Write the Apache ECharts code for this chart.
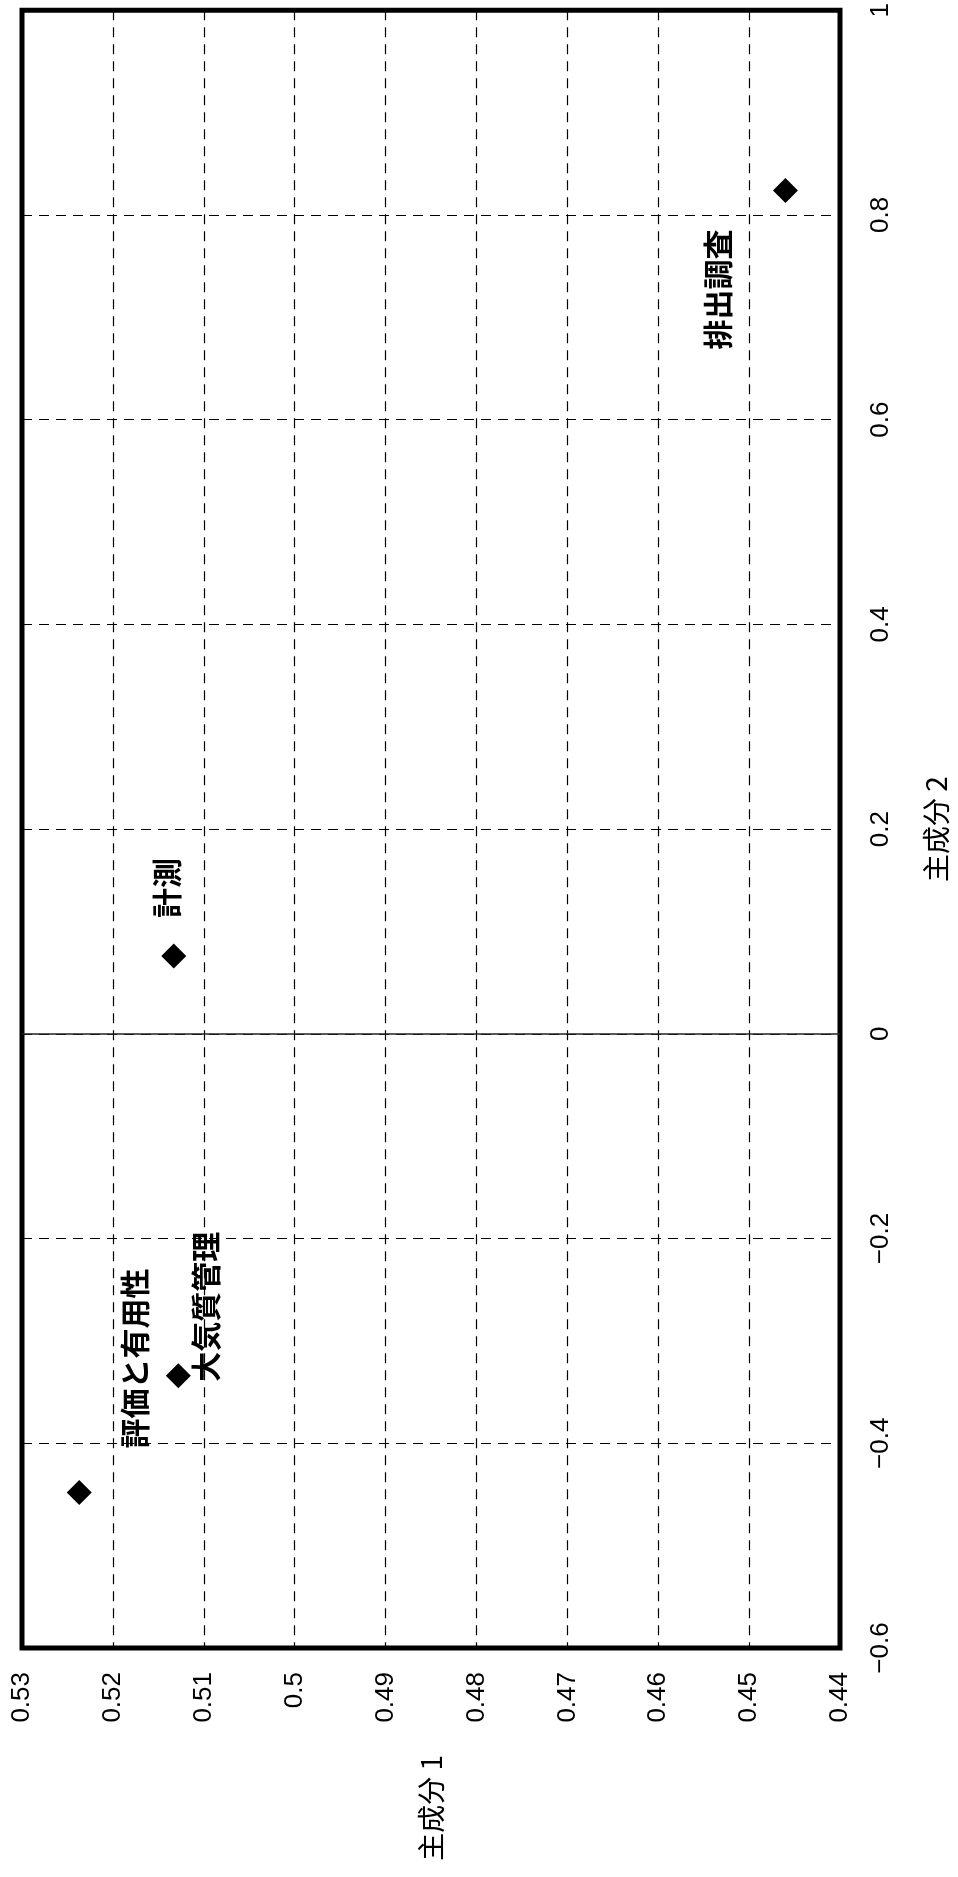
<!DOCTYPE html>
<html>
<head>
<meta charset="utf-8">
<script src="https://cdn.jsdelivr.net/npm/echarts@6/dist/echarts.min.js"></script>
<style>
  html, body { margin: 0; padding: 0; background: #fff; }
  #chart { width: 958px; height: 1877px; }
</style>
</head>
<body>
<div id="chart"></div>
<script>
// Principal component loadings of each topic
const names = ['評価と有用性', '大気質管理', '計測', '排出調査'];
const pc1 = [0.5237, 0.5128, 0.5133, 0.4460];
const pc2 = [-0.448, -0.334, 0.076, 0.824];

// Axis ranges and tick steps
const pc1Min = 0.44, pc1Max = 0.53, pc1Step = 0.01;
const pc2Min = -0.6, pc2Max = 1, pc2Step = 0.2;
const pc1Name = '主成分 1';
const pc2Name = '主成分 2';

// Label placement relative to each marker (screen pixels)
const labelShift = [[55, -134], [27, -69], [-7, -68], [-68, 99]];

const chart = echarts.init(document.getElementById('chart'), null, { renderer: 'canvas' });

const latin = "'Liberation Sans', Arial, sans-serif";
const cjk = "'Noto Sans CJK JP', sans-serif";
const dashed = { type: [10, 7], color: '#000', width: 1.2 };

chart.setOption({
  backgroundColor: '#fff',
  animation: false,
  grid: {
    left: 22, top: 8, right: 114, bottom: 229,
    show: true, borderColor: '#000', borderWidth: 5, backgroundColor: 'transparent'
  },
  xAxis: {
    type: 'value',
    min: pc1Min, max: pc1Max, interval: pc1Step,
    inverse: true,
    position: 'bottom',
    axisLine: { show: false },
    axisTick: { show: false },
    splitLine: { show: true, lineStyle: dashed },
    axisLabel: {
      rotate: 90, margin: 24, fontSize: 26, color: '#000', fontFamily: latin,
      formatter: v => String(Math.round(v * 100) / 100)
    },
    name: pc1Name,
    nameLocation: 'middle',
    nameRotate: 90,
    nameGap: 107,
    nameTextStyle: { fontSize: 28, color: '#000', fontFamily: cjk }
  },
  yAxis: {
    type: 'value',
    min: pc2Min, max: pc2Max, interval: pc2Step,
    position: 'right',
    axisLine: { show: false },
    axisTick: { show: false },
    splitLine: { show: true, lineStyle: dashed },
    axisLabel: {
      rotate: 90, margin: 28, fontSize: 26, color: '#000', fontFamily: latin,
      formatter: v => String(Math.round(v * 10) / 10).replace('-', '\u2212')
    },
    name: pc2Name,
    nameLocation: 'middle',
    nameRotate: 90,
    nameGap: 82,
    nameTextStyle: { fontSize: 28, color: '#000', fontFamily: cjk }
  },
  series: [{
    type: 'scatter',
    symbol: 'diamond',
    symbolSize: 25,
    itemStyle: { color: '#000', opacity: 1 },
    data: pc1.map((v, i) => ({ value: [v, pc2[i]], name: names[i] })),
    label: {
      show: true,
      formatter: p => p.name,
      rotate: 90,
      fontSize: 30,
      fontWeight: 'bold',
      color: '#000',
      fontFamily: cjk,
      align: 'center',
      verticalAlign: 'middle'
    },
    labelLayout: p => {
      const s = labelShift[p.dataIndex];
      return {
        x: p.rect.x + p.rect.width / 2 + s[0],
        y: p.rect.y + p.rect.height / 2 + s[1],
        rotate: 90,
        align: 'center',
        verticalAlign: 'middle'
      };
    },
    emphasis: { disabled: true },
    markLine: {
      silent: true,
      symbol: 'none',
      label: { show: false },
      lineStyle: { type: 'solid', color: '#222', width: 1.5 },
      data: [{ yAxis: 0 }]
    }
  }]
});
</script>
</body>
</html>
